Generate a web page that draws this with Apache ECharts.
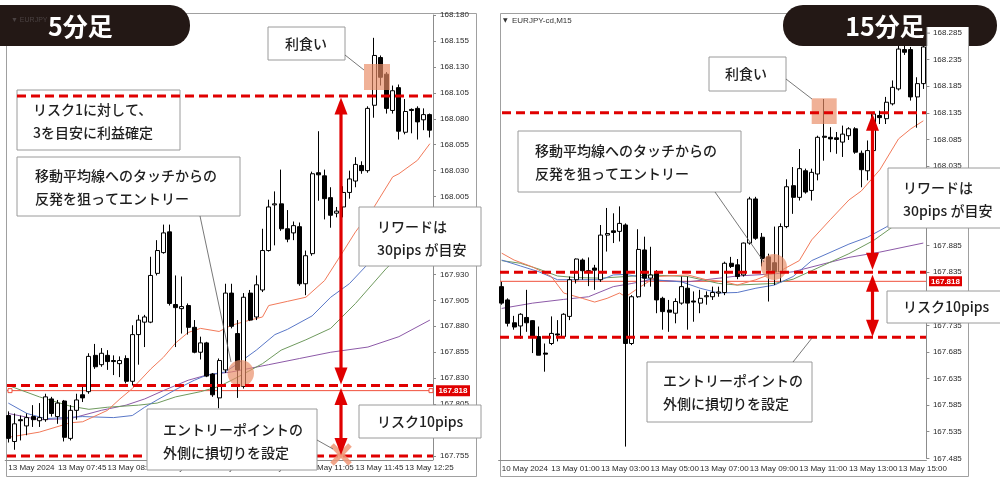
<!DOCTYPE html>
<html><head><meta charset="utf-8">
<script src="https://cdn.jsdelivr.net/npm/echarts@6/dist/echarts.min.js"></script>
<style>html,body{margin:0;padding:0;background:#fff}#c{width:1000px;height:483px}</style>
</head><body><div id="c"></div><script>
// ---------- DATA ----------
// 5-minute chart candles: [open, close, low, high]
const leftCandles = [
[167.794,167.772,167.768,167.798],[167.769,167.786,167.761,167.796],[167.790,167.789,167.770,167.794],[167.784,167.792,167.775,167.796],
[167.793,167.790,167.783,167.804],[167.789,167.792,167.783,167.806],[167.790,167.812,167.788,167.815],[167.810,167.796,167.793,167.812],
[167.793,167.806,167.786,167.809],[167.808,167.773,167.769,167.809],[167.772,167.799,167.770,167.804],[167.799,167.809,167.790,167.815],
[167.814,167.811,167.807,167.823],[167.817,167.851,167.815,167.854],[167.852,167.841,167.839,167.863],[167.843,167.854,167.841,167.859],
[167.852,167.846,167.838,167.857],[167.847,167.846,167.833,167.852],[167.844,167.847,167.831,167.851],[167.849,167.827,167.825,167.852],
[167.827,167.872,167.823,167.881],[167.872,167.886,167.843,167.891],[167.884,167.889,167.860,167.891],[167.884,167.929,167.883,167.947],
[167.931,167.953,167.929,167.963],[167.951,167.970,167.950,167.978],[167.971,167.902,167.900,167.978],[167.901,167.898,167.860,167.929],
[167.897,167.899,167.873,167.928],[167.900,167.879,167.872,167.902],[167.879,167.855,167.854,167.886],[167.855,167.864,167.848,167.870],
[167.864,167.832,167.831,167.865],[167.834,167.814,167.812,167.835],[167.811,167.847,167.801,167.849],[167.838,167.912,167.835,167.921],
[167.912,167.880,167.878,167.921],[167.873,167.838,167.811,167.886],[167.822,167.908,167.820,167.912],[167.912,167.886,167.885,167.915],
[167.889,167.920,167.886,167.929],[167.915,167.953,167.913,167.974],[167.953,167.995,167.952,168.002],[167.997,167.998,167.958,168.010],
[167.998,167.974,167.972,168.031],[167.974,167.964,167.961,167.992],[167.970,167.977,167.963,167.981],[167.976,167.921,167.919,167.980],
[167.921,167.948,167.910,167.953],[167.950,168.027,167.948,168.029],[168.028,168.026,168.001,168.068],[168.025,168.003,167.983,168.031],
[168.004,167.987,167.975,168.014],[167.989,167.991,167.985,167.995],[167.995,168.009,167.985,168.015],[168.009,168.022,168.003,168.030],
[168.020,168.036,168.014,168.043],[168.035,168.030,168.027,168.039],[168.030,168.090,168.028,168.092],[168.093,168.141,168.081,168.158],
[168.139,168.120,168.112,168.141],[168.123,168.090,168.085,168.125],[168.088,168.107,168.085,168.112],[168.110,168.068,168.060,168.113],
[168.067,168.087,168.065,168.099],[168.089,168.088,168.066,168.090],[168.090,168.077,168.060,168.092],[168.079,168.084,168.069,168.090],
[168.084,168.069,168.062,168.085]
];
// 15-minute chart candles: [open, close, low, high]
const rightCandles = [
[167.808,167.777,167.774,167.817],[167.783,167.739,167.733,167.786],[167.740,167.732,167.727,167.753],[167.734,167.756,167.710,167.758],
[167.750,167.740,167.723,167.802],[167.744,167.714,167.683,167.745],[167.714,167.679,167.679,167.733],[167.683,167.681,167.648,167.701],
[167.701,167.720,167.698,167.752],[167.719,167.717,167.705,167.745],[167.714,167.756,167.711,167.758],[167.752,167.821,167.745,167.827],
[167.821,167.860,167.814,167.861],[167.858,167.838,167.821,167.861],[167.838,167.836,167.809,167.863],[167.843,167.839,167.802,167.849],
[167.821,167.905,167.817,167.924],[167.905,167.908,167.874,167.956],[167.913,167.910,167.890,167.946],[167.912,167.927,167.893,167.959],
[167.924,167.701,167.507,167.927],[167.701,167.789,167.698,167.792],[167.789,167.878,167.787,167.916],[167.877,167.824,167.808,167.902],
[167.824,167.830,167.808,167.883],[167.836,167.783,167.758,167.839],[167.786,167.761,167.727,167.789],[167.764,167.760,167.723,167.783],
[167.758,167.780,167.739,167.786],[167.777,167.808,167.774,167.827],[167.805,167.777,167.727,167.827],[167.781,167.779,167.742,167.799],
[167.777,167.786,167.758,167.802],[167.789,167.791,167.774,167.799],[167.789,167.797,167.783,167.808],[167.796,167.798,167.789,167.808],
[167.797,167.852,167.792,167.855],[167.852,167.846,167.843,167.864],[167.849,167.827,167.822,167.860],[167.830,167.890,167.827,167.891],
[167.890,167.973,167.887,167.977],[167.973,167.899,167.896,167.977],[167.901,167.861,167.846,167.909],[167.864,167.839,167.780,167.870],
[167.853,167.836,167.811,167.921],[167.836,167.921,167.817,167.927],[167.921,167.996,167.918,168.010],[167.998,167.976,167.945,168.033],
[167.976,168.030,167.970,168.067],[168.026,167.986,167.983,168.030],[167.989,168.023,167.970,168.030],[168.020,168.089,168.008,168.092],
[168.091,168.089,168.045,168.161],[168.089,168.086,168.061,168.108],[168.088,168.085,168.058,168.099],[168.080,168.095,168.052,168.111],
[168.092,168.105,168.084,168.108],[168.105,168.061,168.058,168.108],[168.059,168.028,167.995,168.064],[168.026,168.064,168.008,168.083],
[168.064,168.133,168.062,168.137],[168.130,168.126,168.114,168.139],[168.124,168.155,168.114,168.165],[168.152,168.183,168.149,168.196],
[168.180,168.255,168.177,168.285],[168.254,168.249,168.244,168.285],[168.254,168.165,168.158,168.259],[168.165,168.190,168.107,168.202],
[168.190,168.259,168.180,168.262]
];
// moving averages read at selected candles: [candleIndex, value]
const leftMaOrange = [[0,167.773],[5,167.778],[10,167.787],[12,167.788],[16,167.799],[18,167.810],[20,167.820],[23,167.839],[25,167.850],[27,167.864],[29,167.874],[31,167.878],[34,167.875],[36,167.881],[39,167.886],[41,167.889],[42,167.900],[45,167.904],[48,167.908],[51,167.924],[54,167.952],[56,167.971],[59,167.995],[62,168.024],[63,168.027],[66,168.040],[68,168.056]];
const leftMaBlue = [[0,167.806],[3,167.796],[6,167.791],[12,167.793],[17,167.792],[20,167.794],[22,167.802],[24,167.809],[27,167.819],[30,167.828],[32,167.833],[35,167.836],[37,167.844],[40,167.857],[43,167.872],[45,167.877],[49,167.890],[52,167.908],[55,167.921],[58,167.940],[62,167.962],[68,167.990]];
const leftMaGreen = [[0,167.823],[5,167.812],[10,167.803],[13,167.800],[16,167.802],[21,167.804],[24,167.806],[27,167.812],[31,167.817],[34,167.822],[37,167.831],[41,167.844],[44,167.857],[48,167.867],[52,167.878],[56,167.902],[61,167.936],[68,167.973]];
const leftMaPurple = [[0,167.796],[5,167.790],[10,167.791],[15,167.799],[19,167.804],[22,167.810],[25,167.818],[29,167.828],[32,167.833],[36,167.836],[42,167.843],[47,167.849],[52,167.855],[58,167.860],[63,167.870],[68,167.886]];
const rightMaOrange = [[0,167.871],[2,167.858],[5,167.845],[8,167.827],[10,167.796],[13,167.786],[15,167.779],[17,167.786],[19,167.796],[20,167.789],[22,167.805],[25,167.827],[30,167.830],[33,167.821],[36,167.817],[38,167.811],[41,167.821],[43,167.830],[45,167.838],[48,167.857],[50,167.896],[53,167.934],[56,167.971],[58,167.988],[61,168.028],[64,168.086],[66,168.105],[68,168.120]];
const rightMaBlue = [[0,167.858],[3,167.847],[6,167.836],[9,167.821],[13,167.821],[16,167.821],[18,167.830],[20,167.831],[22,167.827],[24,167.821],[29,167.817],[32,167.805],[35,167.796],[38,167.797],[41,167.805],[44,167.811],[47,167.827],[50,167.857],[56,167.888],[59,167.901],[62,167.920],[65,167.943],[68,167.962]];
const rightMaGreen = [[0,167.857],[3,167.852],[6,167.841],[9,167.828],[12,167.825],[16,167.824],[20,167.827],[24,167.830],[30,167.827],[35,167.814],[38,167.811],[44,167.814],[47,167.822],[50,167.838],[56,167.870],[60,167.895],[63,167.920],[68,167.952]];
const rightMaPurple = [[0,167.767],[5,167.777],[10,167.784],[14,167.789],[18,167.808],[21,167.814],[24,167.821],[30,167.817],[38,167.828],[44,167.832],[47,167.836],[56,167.863],[61,167.873],[68,167.890]];
// price levels
const leftLevels = {takeProfit:168.102, entry:167.823, stopLoss:167.755, last:167.818};
const rightLevels = {takeProfit:168.135, entry:167.835, stopLoss:167.713, last:167.818, topTick:168.285};
// tick labels (every 8th candle)
const leftTickLabels = ['13 May 2024','13 May 07:45','13 May 08:25','13 May 09:05','13 May 09:45','13 May 10:25','13 May 11:05','13 May 11:45','13 May 12:25'];
const rightTickLabels = ['10 May 2024','13 May 01:00','13 May 03:00','13 May 05:00','13 May 07:00','13 May 09:00','13 May 11:00','13 May 13:00','13 May 15:00'];
const leftAxisRange = {min:167.755, max:168.180, interval:0.025};
const rightAxisRange = {min:167.485, max:168.321, interval:0.05};

// ---------- categories ----------
function pad(n){return (n<10?'0':'')+n;}
const leftCategories = leftCandles.map((d,i)=>{const m=7*60+5+5*i;return '13 May '+pad(Math.floor(m/60))+':'+pad(m%60);});
const rightCategories = rightCandles.map((d,i)=>{ if(i<4) return '10 May 23:'+pad(15*i); const m=15*(i-4); return '13 May '+pad(Math.floor(m/60))+':'+pad(m%60);});

const AX = '#8c8c8c', LBL = '#2a2a2a';
const MA = {orange:'#f27a5a', blue:'#5a78c8', green:'#6f9a5e', purple:'#8d5aa8'};
const candleStyle = {color:'#ffffff', color0:'#000000', borderColor:'#000000', borderColor0:'#000000', borderWidth:1};

function xAxisDef(gi, cats, ticks, off){
  return {gridIndex:gi, type:'category', data:cats, boundaryGap:true, offset:off,
    axisLine:{lineStyle:{color:AX}},
    axisTick:{interval:(i)=>i%8===0, alignWithLabel:true, length:4, lineStyle:{color:AX}},
    axisLabel:{interval:(i)=>i%8===0, align:'left', margin:4, fontSize:8, fontFamily:'Liberation Sans', color:LBL,
      formatter:(v,i)=> (i%8===0 && ticks[i/8]) ? ticks[i/8] : ''},
    splitLine:{show:false}};
}
function yAxisDef(gi, r, margin){
  return {gridIndex:gi, type:'value', position:'right', min:r.min, max:r.max, interval:r.interval, scale:true,
    axisLine:{show:true, lineStyle:{color:AX}}, axisTick:{show:true, length:3, lineStyle:{color:AX}},
    axisLabel:{margin:margin, fontSize:8, fontFamily:'Liberation Sans', color:LBL, showMaxLabel: gi===0, formatter:v=>v.toFixed(3)},
    splitLine:{show:false}};
}
function maSeries(gi, data, color){
  return {type:'line', xAxisIndex:gi, yAxisIndex:gi, data:data, showSymbol:false, symbol:'none', silent:true,
    lineStyle:{width:1, color:color}, z:3};
}

const chart = echarts.init(document.getElementById('c'), null, {renderer:'canvas'});
chart.setOption({
  animation:false,
  backgroundColor:'#ffffff',
  grid:[{left:5.2, top:15, width:427.8, height:441},{left:498.6, top:14, width:427.8, height:444.3}],
  xAxis:[xAxisDef(0,leftCategories,leftTickLabels,4), xAxisDef(1,rightCategories,rightTickLabels,2)],
  yAxis:[yAxisDef(0,leftAxisRange,7), yAxisDef(1,rightAxisRange,6.5)],
  series:[
    {type:'candlestick', xAxisIndex:0, yAxisIndex:0, data:leftCandles, barWidth:4.5, itemStyle:candleStyle, z:4},
    maSeries(0,leftMaPurple,MA.purple), maSeries(0,leftMaGreen,MA.green), maSeries(0,leftMaBlue,MA.blue), maSeries(0,leftMaOrange,MA.orange),
    {type:'candlestick', xAxisIndex:1, yAxisIndex:1, data:rightCandles, barWidth:4.5, itemStyle:candleStyle, z:4},
    maSeries(1,rightMaPurple,MA.purple), maSeries(1,rightMaGreen,MA.green), maSeries(1,rightMaBlue,MA.blue), maSeries(1,rightMaOrange,MA.orange)
  ]
});

// ---------- annotations ----------
const RED = '#e00000', SALMON = 'rgba(233,140,102,0.68)', FONT = '500 14px "Noto Sans CJK JP"';
const yL = v => chart.convertToPixel({xAxisIndex:0, yAxisIndex:0}, [0, v])[1];
const yR = v => chart.convertToPixel({xAxisIndex:1, yAxisIndex:1}, [0, v])[1];
const g = [];
function rect(x,y,w,h,fill,stroke,z,r){ return {type:'rect', silent:true, shape:{x,y,width:w,height:h,r:r||0}, style:{fill:fill, stroke:stroke||null, lineWidth:1}, z:z}; }
function box(x,y,w,h,z){ return rect(x,y,w,h,'#ffffff','#9a9a9a',z); }
function txt(x,y,t,z,extra){ return {type:'text', silent:true, x:x, y:y, style:Object.assign({text:t, font:FONT, fill:'#1e1e1e', verticalAlign:'middle', lineHeight:23}, extra||{}), z:z}; }
function seg(x1,y1,x2,y2,stroke,lw,z,dash){ return {type:'line', silent:true, shape:{x1,y1,x2,y2}, style:{stroke:stroke, lineWidth:lw, lineDash:dash||null}, z:z}; }
function head(x,tip,dir,z){ const L=17,W=6.5,b=tip-dir*L; return {type:'polygon', silent:true, shape:{points:[[x,tip],[x-W,b],[x+W,b]]}, style:{fill:RED}, z:z}; }
function doubleArrow(x,top,bottom,z){
  return [seg(x,top+8,x,bottom-8,RED,3.2,z), head(x,top,-1,z), head(x,bottom,1,z)];
}
const DASH = [9,5];

// left chart
const lTp=yL(leftLevels.takeProfit), lEn=yL(leftLevels.entry), lSl=yL(leftLevels.stopLoss), lLast=yL(leftLevels.last);
g.push(rect(6.5,13.5,470,463,null,'#a0a0a0',0));
g.push(seg(433.5,455,433.5,460,AX,1,1));
g.push(seg(7,lLast,433,lLast,'#f0503c',1,1));
g.push(rect(8,lLast-2,4,4,'#fff','#f0503c',2));
g.push(rect(429,lLast-2,4,4,'#fff','#f0503c',2));
g.push(rect(436,lLast-5.5,34,11,RED,null,25));
g.push(txt(453,lLast+0.5,leftLevels.last.toFixed(3),26,{font:'bold 8px "Liberation Sans"', fill:'#fff', align:'center', lineHeight:10}));
g.push(rect(364,64,26,26,SALMON,null,10));
g.push({type:'circle', silent:true, shape:{cx:240.8, cy:373.3, r:13.2}, style:{fill:SALMON}, z:10});
g.push(box(17,90,163,60,11));
g.push(txt(33,121,'リスク1に対して、\n3を目安に利益確定',11));
g.push(seg(17,lTp,433,lTp,RED,3,12,DASH));
g.push(seg(7,lEn,433,lEn,RED,3,12,DASH));
g.push(seg(7,lSl,433,lSl,RED,3,12,DASH));
g.push(seg(332,lSl-11,350,lSl+8,'rgba(240,150,118,0.85)',5,14));
g.push(seg(332,lSl+8,350,lSl-11,'rgba(240,150,118,0.85)',5,14));
doubleArrow(341,lTp+1.5,lEn-1,15).forEach(e=>g.push(e));
doubleArrow(341,lEn+2.5,lSl-1,15).forEach(e=>g.push(e));
g.push(box(268,27,77,33,20)); g.push(txt(285,43.5,'利食い',20));
g.push(seg(345,55,364,70,'#555',0.8,20));
g.push(box(17,157,223,59,20)); g.push(txt(35,187.5,'移動平均線へのタッチからの\n反発を狙ってエントリー',20));
g.push(seg(200,216,231,362,'#555',0.8,20));
g.push(box(359,207,122,59,20)); g.push(txt(377,238,'リワードは\n30pips が目安',20));
g.push(box(359,405,122,33,20)); g.push(txt(377,421.5,'リスク10pips',20));
g.push(box(147,409,170,61,20)); g.push(txt(163,441,'エントリーポイントの\n外側に損切りを設定',20));
g.push(seg(317,440,333,449,'#555',0.8,20));
g.push(rect(-20,5,210,41,'#231815',null,30,20));
g.push(txt(48,26,'5分足',31,{font:'bold 25px "Noto Sans CJK JP"', fill:'#fff', lineHeight:30}));
g.push(txt(11,20.5,'▼ EURJPY',31,{font:'7px "Liberation Sans"', fill:'#4a4242', lineHeight:9}));

// right chart
const rTp=yR(rightLevels.takeProfit), rEn=yR(rightLevels.entry), rSl=yR(rightLevels.stopLoss), rLast=yR(rightLevels.last);
g.push(rect(500.5,13.5,468,463,null,'#a0a0a0',0));
g.push(seg(500,rLast,926,rLast,'#f0503c',1,1));
g.push(rect(929,rLast-5,33,10,RED,null,25));
g.push(txt(945.5,rLast+0.5,rightLevels.last.toFixed(3),26,{font:'bold 8px "Liberation Sans"', fill:'#fff', align:'center', lineHeight:10}));
g.push(txt(503,20.5,'▼',5,{font:'6px "DejaVu Sans"', fill:'#333', lineHeight:8}));
g.push(txt(512,20.5,'EURJPY-cd,M15',5,{font:'8px "Liberation Sans"', fill:'#333', lineHeight:10}));
g.push(rect(811.7,98.3,25,25.7,SALMON,null,10));
g.push({type:'circle', silent:true, shape:{cx:774, cy:267, r:13}, style:{fill:SALMON}, z:10});
g.push(seg(502,rTp,926,rTp,RED,3,12,DASH));
g.push(seg(500,rEn,926,rEn,RED,3,12,DASH));
g.push(seg(500,rSl,926,rSl,RED,3,12,DASH));
doubleArrow(872.5,rTp+1,rEn-2.5,15).forEach(e=>g.push(e));
doubleArrow(872.5,rEn+2.5,rSl-0.5,15).forEach(e=>g.push(e));
g.push(box(709,57,77,34,20)); g.push(txt(725,74,'利食い',20));
g.push(seg(786,79,812,99,'#555',0.8,20));
g.push(box(518,131,223,61,20)); g.push(txt(535,161.7,'移動平均線へのタッチからの\n反発を狙ってエントリー',20));
g.push(seg(715,192,764,262,'#555',0.8,20));
g.push(box(888,168,115,60,20)); g.push(txt(903,198.7,'リワードは\n30pips が目安',20));
g.push(box(887,291,116,32,20)); g.push(txt(903,307,'リスク10pips',20));
g.push(box(647,362,165,60,20)); g.push(txt(663,392,'エントリーポイントの\n外側に損切りを設定',20));
g.push(seg(793,362,812,338,'#555',0.8,20));
g.push(rect(783,5,214,41,'#231815',null,30,20));
g.push(txt(885,26,'15分足',31,{font:'bold 25px "Noto Sans CJK JP"', fill:'#fff', align:'center', lineHeight:30}));
// axis-label strip of the 15-min chart shows through the title pill
const rTop = yR(rightLevels.topTick);
g.push(rect(927,27,41,19,'#ffffff',null,32));
g.push(seg(926.9,27,926.9,46,AX,1,33));
g.push(seg(968.5,27,968.5,46,'#a0a0a0',1,33));
g.push(seg(927,rTop,930,rTop,AX,1,33));
g.push(txt(933,rTop,rightLevels.topTick.toFixed(3),33,{font:'8px "Liberation Sans"', fill:LBL, lineHeight:10}));

chart.setOption({graphic:{elements:g}});
</script></body></html>
